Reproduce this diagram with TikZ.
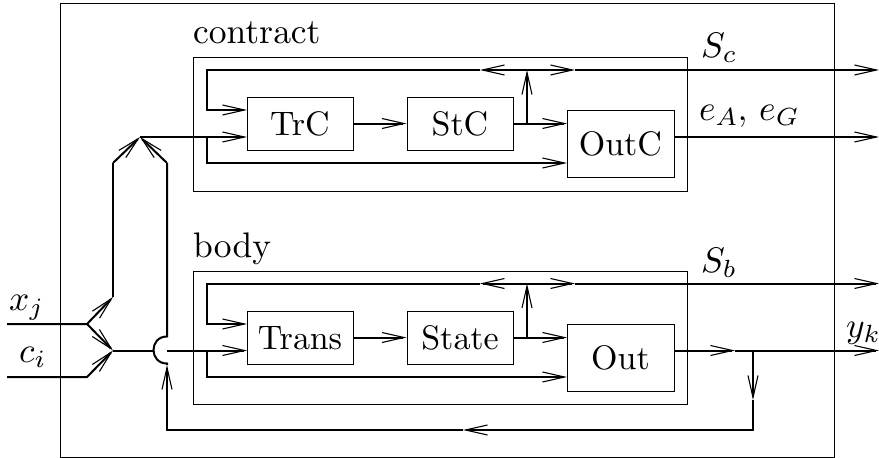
\RequirePackage{fix-cm}
\documentclass[tikz,border=0pt]{standalone}
\usetikzlibrary{arrows.meta}
\DeclareFontFamily{OT1}{cmrx}{}
\DeclareFontShape{OT1}{cmrx}{m}{n}{<->cmr10}{}
\DeclareFontShape{OML}{cmm}{m}{it}{<-30>cmmi7 <30->cmmi10}{}
\newcommand\boxcm{\fontencoding{OT1}\fontfamily{cmrx}\fontsize{34}{40}\selectfont}
\newcommand\lblcm{\fontencoding{OT1}\fontfamily{cmrx}\fontsize{35.5}{42}\selectfont}
\begin{document}
\begin{tikzpicture}[x=1pt,y=-1pt,
  thin box/.style={draw,line width=1pt},
  blockbox/.style={draw,line width=1pt,minimum width=106pt,minimum height=53pt,inner sep=0pt,font=\boxcm},
  outbox/.style={blockbox,minimum width=107pt,minimum height=67pt},
  lbl/.style={inner sep=0pt,anchor=base west,font=\lblcm},
  wire/.style={line width=2pt},
  arr/.style={wire,-{Straight Barb[length=22pt,width=10pt,line width=1.1pt]}},
]
\useasboundingbox (0,0) rectangle (879,458);
% frames
\draw[thin box] (60,3) rectangle (834,457);
\draw[thin box] (193,57) rectangle (687,191);
\draw[thin box] (193,271) rectangle (687,404);
% blocks
\node[blockbox] (TrC) at (300,123.5) {TrC};
\node[blockbox] (StC) at (460,123.5) {StC};
\node[outbox] (OutC) at (620.5,143.5) {OutC};
\node[blockbox] (Trans) at (300,337.5) {Trans};
\node[blockbox] (State) at (460,337.5) {State};
\node[outbox] (Out) at (620.5,357.5) {Out};
% labels
\node[lbl] (lc) at (193,43) {contract};
\node[lbl] (lb) at (193,257) {body};
\node[lbl] (lsc) at (701,57.5) {$S_c$};
\node[lbl] (le) at (699,120) {$e_A,\,e_G$};
\node[lbl] (lsb) at (701,272) {$S_b$};
\node[lbl] (ly) at (846,337) {$y_k$};
\node[lbl] (lx) at (9,310) {$x_j$};
\node[lbl] (lci) at (19,362) {$c_i$};
% coordinates contract
\coordinate (cs) at (527,123.5);
\coordinate (ct) at (527,70);
\coordinate (cl) at (480,70);
\coordinate (cr) at (575,70);
\coordinate (cend) at (879,70);
\coordinate (ccorner) at (207,70);
\coordinate (cin1) at (247,110);
\coordinate (cin2) at (247,137);
\coordinate (cbot) at (207,163);
\coordinate (coin1) at (567,123.5);
\coordinate (coin2) at (567,163);
\coordinate (cout) at (674,137);
\coordinate (coutend) at (879,137);
\coordinate (jn) at (140,137);
% coordinates body
\coordinate (bs) at (527,337.5);
\coordinate (bt) at (527,283.5);
\coordinate (bl) at (480,283.5);
\coordinate (br) at (575,283.5);
\coordinate (bend) at (879,283.5);
\coordinate (bcorner) at (207,283.5);
\coordinate (bin1) at (247,324);
\coordinate (bin2) at (247,350.5);
\coordinate (bbot) at (207,377);
\coordinate (boin1) at (567,337.5);
\coordinate (boin2) at (567,377);
\coordinate (bout) at (674,350.5);
\coordinate (bmid) at (735,350.5);
\coordinate (bj) at (753,350.5);
\coordinate (boutend) at (879,350.5);
\coordinate (fd) at (753,400);
\coordinate (fl) at (463,430);
\coordinate (fc) at (167,430);
\coordinate (fu) at (167,365);
\coordinate (arcb) at (167,363.5);
\coordinate (arct) at (167,336.5);
\coordinate (arcl) at (153.5,350.5);
\coordinate (bstart) at (167,350.5);
% inputs
\coordinate (xs) at (7,324);
\coordinate (xk) at (87,324);
\coordinate (xu) at (113,297);
\coordinate (lm) at (113,350.5);
\coordinate (cis) at (7,377);
\coordinate (cik) at (87,377);
\coordinate (lv) at (113,163);
\coordinate (rv) at (167,163);

% contract wiring
\draw[arr] (TrC) -- (StC);
\draw[wire] (StC.east |- cs) -- (cs);
\draw[arr] (cs) -- (coin1);
\draw[arr] (cs) -- (ct);
\draw[arr] (ct) -- (cl);
\draw[arr] (cl) -- (ccorner) -- (ccorner |- cin1) -- (cin1);
\draw[arr] (ct) -- (cr);
\draw[arr] (cr) -- (cend);
\draw[arr] (jn) -- (cin2);
\draw[arr] (cbot |- cin2) -- (cbot) -- (coin2);
\draw[arr] (cout) -- (coutend);

% body wiring
\draw[arr] (Trans) -- (State);
\draw[wire] (State.east |- bs) -- (bs);
\draw[arr] (bs) -- (boin1);
\draw[arr] (bs) -- (bt);
\draw[arr] (bt) -- (bl);
\draw[arr] (bl) -- (bcorner) -- (bcorner |- bin1) -- (bin1);
\draw[arr] (bt) -- (br);
\draw[arr] (br) -- (bend);
\draw[arr] (bstart) -- (bin2);
\draw[arr] (bbot |- bin2) -- (bbot) -- (boin2);
\draw[arr] (bout) -- (bmid);
\draw[wire] (bmid) -- (bj);
\draw[arr] (bj) -- (boutend);
% feedback
\draw[arr] (bj) -- (fd);
\draw[arr] (fd) |- (fl);
\draw[arr] (fl) -- (fc) -- (fu);
\draw[wire] (fu) -- (arcb) .. controls (149,363.5) and (149,336.5) .. (arct) -- (rv);
\draw[arr] (rv) -- (jn);
% inputs
\draw[arr] (xs) -- (xk) -- (xu);
\draw[arr] (xk) -- (lm);
\draw[arr] (cis) -- (cik) -- (lm);
\draw[wire] (xu) -- (lv);
\draw[arr] (lv) -- (jn);
\draw[wire] (lm) -- (arcl);
\end{tikzpicture}
\end{document}
